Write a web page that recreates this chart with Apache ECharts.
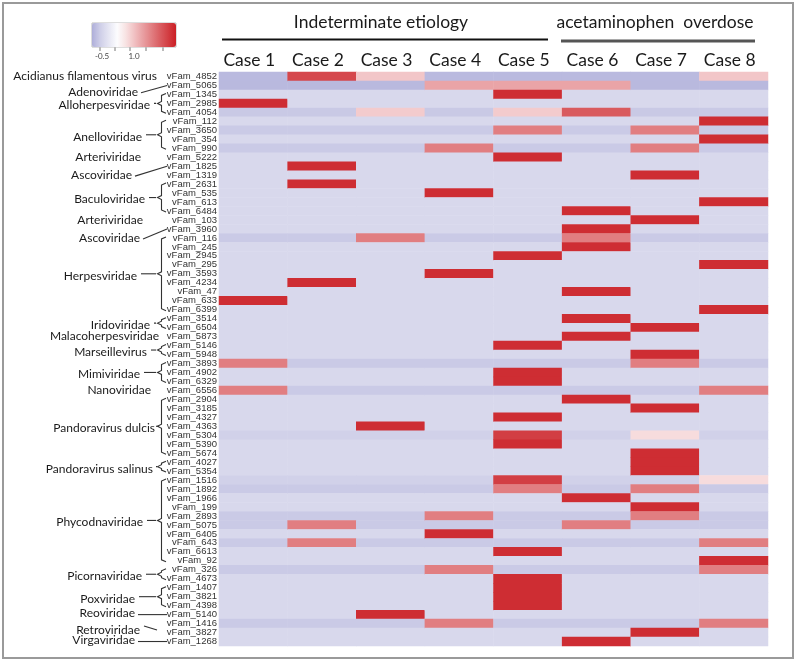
<!DOCTYPE html>
<html>
<head>
<meta charset="utf-8">
<script src="https://cdn.jsdelivr.net/npm/echarts@6/dist/echarts.min.js"></script>
<style>
html,body{margin:0;padding:0;background:#fff;}
#main{width:800px;height:664px;}
</style>
</head>
<body>
<div id="main"></div>
<script>
// ---------------- data ----------------
const cases = ['Case 1','Case 2','Case 3','Case 4','Case 5','Case 6','Case 7','Case 8'];
const groupTitles = ['Indeterminate etiology', 'acetaminophen  overdose'];
const legendLabels = ['-0.5', '1.0'];
const rowIds = [
'vFam_4852','vFam_5065','vFam_1345','vFam_2985','vFam_4054','vFam_112','vFam_3650','vFam_354',
'vFam_990','vFam_5222','vFam_1825','vFam_1319','vFam_2631','vFam_535','vFam_613','vFam_6484',
'vFam_103','vFam_3960','vFam_116','vFam_245','vFam_2945','vFam_295','vFam_3593','vFam_4234',
'vFam_47','vFam_633','vFam_6399','vFam_3514','vFam_6504','vFam_5873','vFam_5146','vFam_5948',
'vFam_3893','vFam_4902','vFam_6329','vFam_6556','vFam_2904','vFam_3185','vFam_4327','vFam_4363',
'vFam_5304','vFam_5390','vFam_5674','vFam_4027','vFam_5354','vFam_1516','vFam_1892','vFam_1966',
'vFam_199','vFam_2893','vFam_5075','vFam_6405','vFam_643','vFam_6613','vFam_92','vFam_326',
'vFam_4673','vFam_1407','vFam_3821','vFam_4398','vFam_5140','vFam_1416','vFam_3827','vFam_1268'
];
const case1 = [
-0.70,-0.72,-0.35,2.47,-0.55,-0.35,-0.54,-0.35,
-0.54,-0.35,-0.35,-0.35,-0.35,-0.35,-0.35,-0.35,
-0.35,-0.35,-0.54,-0.35,-0.35,-0.35,-0.35,-0.35,
-0.35,2.47,-0.35,-0.35,-0.35,-0.35,-0.35,-0.35,
1.62,-0.35,-0.35,1.62,-0.35,-0.35,-0.35,-0.35,
-0.45,-0.35,-0.35,-0.35,-0.35,-0.45,-0.54,-0.35,
-0.35,-0.54,-0.54,-0.35,-0.54,-0.35,-0.35,-0.54,
-0.35,-0.35,-0.35,-0.35,-0.35,-0.54,-0.35,-0.35];
const case2 = [
2.20,-0.72,-0.35,-0.35,-0.55,-0.35,-0.54,-0.35,
-0.54,-0.35,2.47,-0.35,2.47,-0.35,-0.35,-0.35,
-0.35,-0.35,-0.54,-0.35,-0.35,-0.35,-0.35,2.47,
-0.35,-0.35,-0.35,-0.35,-0.35,-0.35,-0.35,-0.35,
-0.54,-0.35,-0.35,-0.54,-0.35,-0.35,-0.35,-0.35,
-0.45,-0.35,-0.35,-0.35,-0.35,-0.45,-0.54,-0.35,
-0.35,-0.54,1.62,-0.35,1.62,-0.35,-0.35,-0.54,
-0.35,-0.35,-0.35,-0.35,-0.35,-0.54,-0.35,-0.35];
const case3 = [
0.85,-0.72,-0.35,-0.35,0.80,-0.35,-0.54,-0.35,
-0.54,-0.35,-0.35,-0.35,-0.35,-0.35,-0.35,-0.35,
-0.35,-0.35,1.62,-0.35,-0.35,-0.35,-0.35,-0.35,
-0.35,-0.35,-0.35,-0.35,-0.35,-0.35,-0.35,-0.35,
-0.54,-0.35,-0.35,-0.54,-0.35,-0.35,-0.35,2.47,
-0.45,-0.35,-0.35,-0.35,-0.35,-0.45,-0.54,-0.35,
-0.35,-0.54,-0.54,-0.35,-0.54,-0.35,-0.35,-0.54,
-0.35,-0.35,-0.35,-0.35,2.47,-0.54,-0.35,-0.35];
const case4 = [
-0.70,1.21,-0.35,-0.35,-0.55,-0.35,-0.54,-0.35,
1.62,-0.35,-0.35,-0.35,-0.35,2.47,-0.35,-0.35,
-0.35,-0.35,-0.54,-0.35,-0.35,-0.35,2.47,-0.35,
-0.35,-0.35,-0.35,-0.35,-0.35,-0.35,-0.35,-0.35,
-0.54,-0.35,-0.35,-0.54,-0.35,-0.35,-0.35,-0.35,
-0.45,-0.35,-0.35,-0.35,-0.35,-0.45,-0.54,-0.35,
-0.35,1.62,-0.54,2.47,-0.54,-0.35,-0.35,1.62,
-0.35,-0.35,-0.35,-0.35,-0.35,1.62,-0.35,-0.35];
const case5 = [
-0.70,1.21,2.47,-0.35,0.80,-0.35,1.62,-0.35,
-0.54,2.47,-0.35,-0.35,-0.35,-0.35,-0.35,-0.35,
-0.35,-0.35,-0.54,-0.35,2.47,-0.35,-0.35,-0.35,
-0.35,-0.35,-0.35,-0.35,-0.35,-0.35,2.47,-0.35,
-0.54,2.47,2.47,-0.54,-0.35,-0.35,2.47,-0.35,
2.30,2.47,-0.35,-0.35,-0.35,2.30,1.62,-0.35,
-0.35,-0.54,-0.54,-0.35,-0.54,2.47,-0.35,-0.54,
2.47,2.47,2.47,2.47,-0.35,-0.54,-0.35,-0.35];
const case6 = [
-0.70,1.21,-0.35,-0.35,2.00,-0.35,-0.54,-0.35,
-0.54,-0.35,-0.35,-0.35,-0.35,-0.35,-0.35,2.47,
-0.35,2.47,1.62,2.47,-0.35,-0.35,-0.35,-0.35,
2.47,-0.35,-0.35,2.47,-0.35,2.47,-0.35,-0.35,
-0.54,-0.35,-0.35,-0.54,2.47,-0.35,-0.35,-0.35,
-0.45,-0.35,-0.35,-0.35,-0.35,-0.45,-0.54,2.47,
-0.35,-0.54,1.62,-0.35,-0.54,-0.35,-0.35,-0.54,
-0.35,-0.35,-0.35,-0.35,-0.35,-0.54,-0.35,2.47];
const case7 = [
-0.70,-0.72,-0.35,-0.35,-0.55,-0.35,1.62,-0.35,
1.62,-0.35,-0.35,2.47,-0.35,-0.35,-0.35,-0.35,
2.47,-0.35,-0.54,-0.35,-0.35,-0.35,-0.35,-0.35,
-0.35,-0.35,-0.35,-0.35,2.47,-0.35,-0.35,2.47,
1.62,-0.35,-0.35,-0.54,-0.35,2.47,-0.35,-0.35,
0.62,-0.35,2.47,2.47,2.47,-0.45,1.62,-0.35,
2.47,1.62,-0.54,-0.35,-0.54,-0.35,-0.35,-0.54,
-0.35,-0.35,-0.35,-0.35,-0.35,-0.54,2.47,-0.35];
const case8 = [
0.85,-0.72,-0.35,-0.35,-0.55,2.47,-0.54,2.47,
-0.54,-0.35,-0.35,-0.35,-0.35,-0.35,2.47,-0.35,
-0.35,-0.35,-0.54,-0.35,-0.35,2.47,-0.35,-0.35,
-0.35,-0.35,2.47,-0.35,-0.35,-0.35,-0.35,-0.35,
-0.54,-0.35,-0.35,1.62,-0.35,-0.35,-0.35,-0.35,
-0.45,-0.35,-0.35,-0.35,-0.35,0.62,-0.54,-0.35,
-0.35,-0.54,-0.54,-0.35,1.62,-0.35,2.47,1.62,
-0.35,-0.35,-0.35,-0.35,-0.35,1.62,-0.35,-0.35];
const caseValues = [case1, case2, case3, case4, case5, case6, case7, case8];

// virus family annotations
const familyNames = ['Acidianus filamentous virus','Adenoviridae','Alloherpesviridae','Anelloviridae','Arteriviridae',
 'Ascoviridae','Baculoviridae','Arteriviridae','Ascoviridae','Herpesviridae','Iridoviridae','Malacoherpesviridae',
 'Marseillevirus','Mimiviridae','Nanoviridae','Pandoravirus dulcis','Pandoravirus salinus','Phycodnaviridae',
 'Picornaviridae','Poxviridae','Reoviridae','Retroviridae','Virgaviridae'];
const familyFirst = [0,1,2,5,9,10,12,16,17,18,27,29,30,32,35,36,43,45,55,57,60,61,63];
const familyLast  = [0,1,4,8,9,10,15,16,17,26,28,29,31,34,35,42,44,54,56,59,60,62,63];
const familyKind  = ['none','line','bracket','bracket','none','line','bracket','none','line','bracket','bracket','none',
 'bracket','bracket','none','bracket','bracket','bracket','bracket','bracket','hline','short','hline'];
const familyRight = [157,138,150,142,141,132,145,143,140,137,150,159,147,140,151,155,153,143,142,135,135,140,135];
const familyTextRow = [0,1.7,null,null,9,11,null,16,18,null,null,29,null,null,35,null,null,null,null,null,60,null,63];

// ---------------- chart ----------------
const heatData = [];
caseValues.forEach((vals, c) => vals.forEach((v, r) => heatData.push([c, r, v])));

const chart = echarts.init(document.getElementById('main'), null, {renderer: 'canvas'});
const FONT = 'Lato, "Liberation Sans", sans-serif';

chart.setOption({
  animation: false,
  backgroundColor: '#ffffff',
  grid: {left: 219, right: 32, top: 72, bottom: 18, containLabel: false},
  xAxis: {
    type: 'category', data: cases, position: 'top',
    axisLine: {show: false}, axisTick: {show: false}, splitLine: {show: false},
    axisLabel: {fontFamily: FONT, fontSize: 17.5, color: '#1a1a1a', margin: 3, padding: [0, 8, 0, 0]}
  },
  yAxis: {
    type: 'category', data: rowIds, inverse: true,
    axisLine: {show: false}, axisTick: {show: false}, splitLine: {show: false},
    axisLabel: {fontFamily: '"Liberation Sans", Arial, sans-serif', fontSize: 9.5, color: '#333', margin: 2, interval: 0}
  },
  visualMap: {
    type: 'continuous', min: -0.83, max: 2.62, orient: 'horizontal',
    left: 92, top: 23, itemWidth: 24, itemHeight: 84, padding: 0,
    calculable: false, hoverLink: false, text: null, showLabel: false,
    inRange: {color: ['#aeaed9','#cfcfe8','#e6e6f3','#fcfcfe','#f8e3e3','#f1c2c4','#e9a1a4','#e28184','#da6064','#d34045','#cb1f25']}
  },
  series: [{
    type: 'heatmap', data: heatData, progressive: 0,
    itemStyle: {borderWidth: 0},
    emphasis: {disabled: true}
  }]
});

function buildGraphics() {
  const g = [];
  const ry = i => {
    const lo = Math.floor(i), fr = i - lo;
    const y0 = chart.convertToPixel({yAxisIndex: 0}, rowIds[lo]);
    if (!fr) return y0;
    const y1 = chart.convertToPixel({yAxisIndex: 0}, rowIds[lo + 1]);
    return y0 + (y1 - y0) * fr;
  };
  const lineStyle = {stroke: '#333', lineWidth: 1.1, fill: null};
  // frame
  g.push({type: 'rect', shape: {x: 3, y: 3, width: 790, height: 655}, style: {fill: null, stroke: '#9a9a9a', lineWidth: 2}, silent: true});
  // header group titles and lines
  g.push({type: 'text', x: 381, y: 22, style: {text: groupTitles[0], font: '17.5px ' + FONT, fill: '#1a1a1a', align: 'center', verticalAlign: 'middle'}});
  g.push({type: 'line', shape: {x1: 222, y1: 39.5, x2: 548, y2: 39.5}, style: {stroke: '#111', lineWidth: 2}});
  g.push({type: 'text', x: 655, y: 22, style: {text: groupTitles[1], font: '17.5px ' + FONT, fill: '#1a1a1a', align: 'center', verticalAlign: 'middle'}});
  g.push({type: 'line', shape: {x1: 561, y1: 41, x2: 755, y2: 41}, style: {stroke: '#555', lineWidth: 3}});
  // legend ticks and labels
  [100, 115, 130, 146, 163].forEach(x => g.push({type: 'line', shape: {x1: x, y1: 47, x2: x, y2: 51}, style: {stroke: '#777', lineWidth: 1}}));
  g.push({type: 'text', x: 102, y: 56, style: {text: legendLabels[0], font: '8px ' + FONT, fill: '#444', align: 'center', verticalAlign: 'middle'}});
  g.push({type: 'text', x: 134, y: 56, style: {text: legendLabels[1], font: '8px ' + FONT, fill: '#444', align: 'center', verticalAlign: 'middle'}});
  g.push({type: 'rect', shape: {x: 92, y: 23, width: 84, height: 24}, style: {fill: null, stroke: '#bbb', lineWidth: 1}});
  // family annotations
  familyNames.forEach((name, k) => {
    const f = familyFirst[k], l = familyLast[k], kind = familyKind[k], right = familyRight[k];
    const yF = ry(f), yL = ry(l);
    const yMid = (yF + yL) / 2;
    let ty = familyTextRow[k] != null ? ry(familyTextRow[k]) : yMid;
    if (kind === 'bracket' || kind === 'short') ty += 2;
    if (kind === 'hline') ty -= 1;
    g.push({type: 'text', x: right, y: ty, style: {text: name, font: '12px ' + FONT, fill: '#1a1a1a', align: 'right', verticalAlign: 'middle'}});
    if (kind === 'bracket') {
      const yT = yF - 1, yB = yL + 1;
      g.push({type: 'polyline', shape: {points: [[166, yT], [161.5, yT + 2], [161.5, yMid - 2], [157.5, yMid], [161.5, yMid + 2], [161.5, yB - 2], [166, yB]]}, style: lineStyle});
      g.push({type: 'line', shape: {x1: right + 4, y1: yMid, x2: 156, y2: yMid}, style: lineStyle});
    } else if (kind === 'line') {
      g.push({type: 'line', shape: {x1: right + 3, y1: ty + 1, x2: 167, y2: yF}, style: lineStyle});
    } else if (kind === 'hline') {
      g.push({type: 'line', shape: {x1: right + 3, y1: ty + 1, x2: 167, y2: yF}, style: lineStyle});
    } else if (kind === 'short') {
      g.push({type: 'line', shape: {x1: right + 4, y1: yMid - 2, x2: 157, y2: yMid + 2}, style: lineStyle});
    }
  });
  chart.setOption({graphic: g});
}
buildGraphics();
</script>
</body>
</html>
